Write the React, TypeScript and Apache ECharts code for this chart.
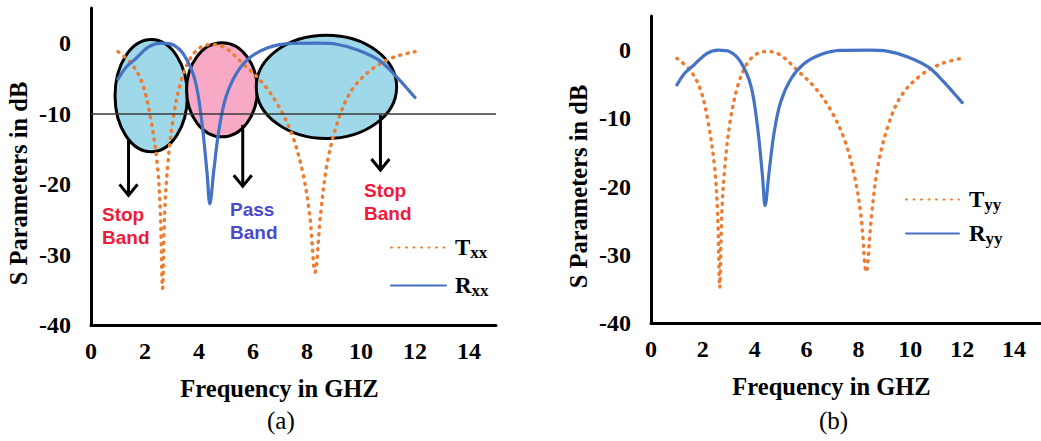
import React, { useEffect, useRef } from "react";
import * as echarts from "echarts";

// Transmission (dotted orange) – same trace in both panels
const tFreq = [1.0, 1.5, 1.9, 2.2, 2.45, 2.57, 2.65, 2.73, 2.85, 3.05, 3.35, 3.7, 4.1, 4.5, 5.0, 5.65, 6.3, 6.9, 7.45, 7.85, 8.1, 8.3, 8.5, 8.75, 9.15, 9.65, 10.4, 11.2, 12.0];
const tDb = [-1.2, -2.9, -5.7, -10.5, -17, -24, -34.8, -24, -17, -10.5, -5.2, -2.0, -0.5, -0.2, -0.75, -3, -5.4, -8.6, -13, -18.5, -24.4, -32.5, -24.4, -17, -11, -6.7, -3.7, -2.0, -1.2];
// Reflection (solid blue)
const rFreq = [1.0, 1.3, 1.65, 2.15, 2.6, 3.05, 3.45, 3.85, 4.1, 4.3, 4.4, 4.55, 4.75, 5.0, 5.4, 5.9, 6.55, 7.3, 8.4, 9.1, 9.9, 10.7, 11.3, 11.7, 12.0];
const rDb = [-5.1, -3.4, -2.2, -0.5, 0, -0.25, -1.7, -5.2, -11, -18.5, -22.8, -18, -12, -7.6, -4.2, -2.0, -0.65, -0.05, 0, -0.15, -1, -2.5, -4.7, -6.4, -7.7];

const xTicks = [0, 2, 4, 6, 8, 10, 12, 14];
const yTicks = [-40, -30, -20, -10, 0];

// Band ellipses (data units): centre freq, centre dB, half-width GHz, half-height dB
const bandNames = ["Stop Band", "Pass Band", "Stop Band"];
const bandCx = [2.23, 4.85, 8.72];
const bandCy = [-7.45, -6.62, -6.2];
const bandRx = [1.34, 1.31, 2.6];
const bandRy = [7.97, 6.67, 7.33];
const bandColors = ["#9fd8e8", "#f8a9c5", "#9fd8e8"];

// Arrows (data units)
const arrowX = [1.39, 5.62, 10.72];
const arrowFrom = [-13.8, -11.6, -10.2];
const arrowTo = [-21.6, -20.3, -18.0];

const T_COLOR = "#ED7D31";
const R_COLOR = "#4472C4";
const SERIF = "Liberation Serif";
const SANS = "Liberation Sans";

const tPairs = tFreq.map((f, i) => [f, tDb[i]]);
const rPairs = rFreq.map((f, i) => [f, rDb[i]]);

const tickRich = {
  t: { fontFamily: SERIF, fontWeight: "bold", fontSize: 24, color: "#000" },
};

function makeXAxis(gridIndex: number) {
  return {
    type: "value",
    gridIndex,
    min: 0,
    max: 15,
    interval: 2,
    name: "Frequency in GHZ",
    nameLocation: "middle",
    nameGap: 51,
    nameTextStyle: { fontFamily: SERIF, fontWeight: "bold", fontSize: 24.5, color: "#000", padding: [0, 28, 0, 0] },
    axisLine: { show: true, onZero: false, lineStyle: { color: "#000", width: 3 } },
    axisTick: { show: false },
    splitLine: { show: false },
    axisLabel: {
      show: true,
      margin: 14,
      fontFamily: SERIF,
      fontWeight: "bold",
      fontSize: 24,
      color: "#000",
      showMaxLabel: false,
      rich: tickRich,
      formatter: (v: number) => (xTicks.includes(v) ? `{t|${v}}` : ""),
    },
  };
}

function makeYAxis(gridIndex: number) {
  return {
    type: "value",
    gridIndex,
    min: -40,
    max: 5,
    interval: 10,
    name: "S Parameters in dB",
    nameLocation: "middle",
    nameGap: 60,
    nameTextStyle: { fontFamily: SERIF, fontWeight: "bold", fontSize: 24.5, color: "#000", padding: [0, 34, 0, 0] },
    axisLine: { show: true, onZero: false, lineStyle: { color: "#000", width: 3 } },
    axisTick: { show: false },
    splitLine: { show: false },
    axisLabel: {
      show: true,
      margin: 20,
      fontFamily: SERIF,
      fontWeight: "bold",
      fontSize: 24,
      color: "#000",
      showMaxLabel: false,
      rich: tickRich,
      formatter: (v: number) => (yTicks.includes(v) ? `{t|${v}}` : ""),
    },
  };
}

function lineSeries(name: string, data: number[][], color: string, dotted: boolean, gridIndex: number, extra: any = {}) {
  return {
    type: "line",
    name,
    xAxisIndex: gridIndex,
    yAxisIndex: gridIndex,
    data,
    smooth: 0.35,
    symbol: "none",
    showSymbol: false,
    z: 3,
    itemStyle: { color },
    lineStyle: dotted
      ? { color, width: 3.5, type: [1, 6.5], cap: "round" }
      : { color, width: 3.2, cap: "round" },
    ...extra,
  };
}

function legendRich(padLeft: number) {
  return {
    b: { fontFamily: SERIF, fontWeight: "bold", fontSize: 23, color: "#000", padding: [0, 0, 0, padLeft] },
    s: { fontFamily: SERIF, fontWeight: "bold", fontSize: 17, color: "#000", verticalAlign: "bottom", padding: [10, 0, 0, 0] },
  };
}
const legendFormatter = (name: string) => `{b|${name[0]}}{s|${name.slice(1)}}`;

export default function App() {
  const ref = useRef<HTMLDivElement>(null);

  useEffect(() => {
    if (!ref.current) return;
    const chart = echarts.init(ref.current, null, { renderer: "svg" });

    const option: any = {
      animation: false,
      backgroundColor: "#fff",
      textStyle: { fontFamily: SERIF },
      grid: [
        { left: 91, top: 8, width: 405, height: 317 },
        { left: 651, top: 16, width: 389, height: 307 },
      ],
      xAxis: [makeXAxis(0), makeXAxis(1)],
      yAxis: [makeYAxis(0), makeYAxis(1)],
      legend: [
        {
          data: ["Txx", "Rxx"],
          orient: "vertical",
          left: 385,
          top: 231,
          itemWidth: 55,
          itemHeight: 14,
          itemGap: 13,
          selectedMode: false,
          itemStyle: { opacity: 0 },
          formatter: legendFormatter,
          textStyle: { rich: legendRich(4) },
        },
        {
          data: ["Tyy", "Ryy"],
          orient: "vertical",
          left: 900,
          top: 183,
          itemWidth: 53,
          itemHeight: 14,
          itemGap: 9,
          selectedMode: false,
          itemStyle: { opacity: 0 },
          formatter: legendFormatter,
          textStyle: { rich: legendRich(5) },
        },
      ],
      series: [
        {
          type: "custom",
          name: "bands",
          xAxisIndex: 0,
          yAxisIndex: 0,
          z: 1,
          silent: true,
          encode: { x: 0, y: 1 },
          data: bandCx.map((cx, i) => ({
            name: bandNames[i],
            value: [cx, bandCy[i], bandRx[i], bandRy[i]],
            itemStyle: { color: bandColors[i] },
          })),
          renderItem: (params: any, api: any) => {
            const c = api.coord([api.value(0), api.value(1)]);
            const s = api.size([api.value(2), api.value(3)]);
            return {
              type: "ellipse",
              shape: { cx: c[0], cy: c[1], rx: s[0], ry: s[1] },
              style: { fill: api.visual("color"), stroke: "#000", lineWidth: 3 },
            };
          },
        },
        lineSeries("Txx", tPairs, T_COLOR, true, 0, {
          markLine: {
            silent: true,
            symbol: ["none", "none"],
            label: { show: false },
            lineStyle: { color: "#3a3a3a", width: 1.5, type: "solid" },
            data: [{ yAxis: -10 }],
          },
        }),
        lineSeries("Rxx", rPairs, R_COLOR, false, 0),
        {
          type: "custom",
          name: "arrows",
          xAxisIndex: 0,
          yAxisIndex: 0,
          z: 5,
          silent: true,
          encode: { x: 0, y: [1, 2] },
          data: arrowX.map((x, i) => [x, arrowFrom[i], arrowTo[i]]),
          renderItem: (params: any, api: any) => {
            const a = api.coord([api.value(0), api.value(1)]);
            const b = api.coord([api.value(0), api.value(2)]);
            return {
              type: "group",
              children: [
                {
                  type: "line",
                  shape: { x1: a[0], y1: a[1], x2: b[0], y2: b[1] },
                  style: { stroke: "#000", lineWidth: 3 },
                },
                {
                  type: "polyline",
                  shape: { points: [[b[0] - 9, b[1] - 11], [b[0], b[1]], [b[0] + 9, b[1] - 11]] },
                  style: { stroke: "#000", lineWidth: 3, fill: "none" },
                },
              ],
            };
          },
        },
        lineSeries("Tyy", tPairs, T_COLOR, true, 1),
        lineSeries("Ryy", rPairs, R_COLOR, false, 1),
      ],
      graphic: [
        {
          type: "text",
          left: 102,
          top: 203,
          z: 10,
          style: { text: "Stop\nBand", fill: "#f01a3a", fontFamily: SANS, fontWeight: "bold", fontSize: 19, lineHeight: 23 },
        },
        {
          type: "text",
          left: 230,
          top: 198,
          z: 10,
          style: { text: "Pass\nBand", fill: "#4a4acd", fontFamily: SANS, fontWeight: "bold", fontSize: 19, lineHeight: 23 },
        },
        {
          type: "text",
          left: 364,
          top: 179,
          z: 10,
          style: { text: "Stop\nBand", fill: "#f01a3a", fontFamily: SANS, fontWeight: "bold", fontSize: 19, lineHeight: 23 },
        },
        {
          type: "text",
          left: 267,
          top: 408,
          style: { text: "(a)", fill: "#000", fontFamily: SERIF, fontSize: 25 },
        },
        {
          type: "text",
          left: 819,
          top: 408,
          style: { text: "(b)", fill: "#000", fontFamily: SERIF, fontSize: 25 },
        },
      ],
    };

    chart.setOption(option);
    return () => chart.dispose();
  }, []);

  return (
    <div
      ref={ref}
      style={{ position: "fixed", left: 0, top: 0, width: 1041, height: 441, background: "#fff" }}
    />
  );
}
